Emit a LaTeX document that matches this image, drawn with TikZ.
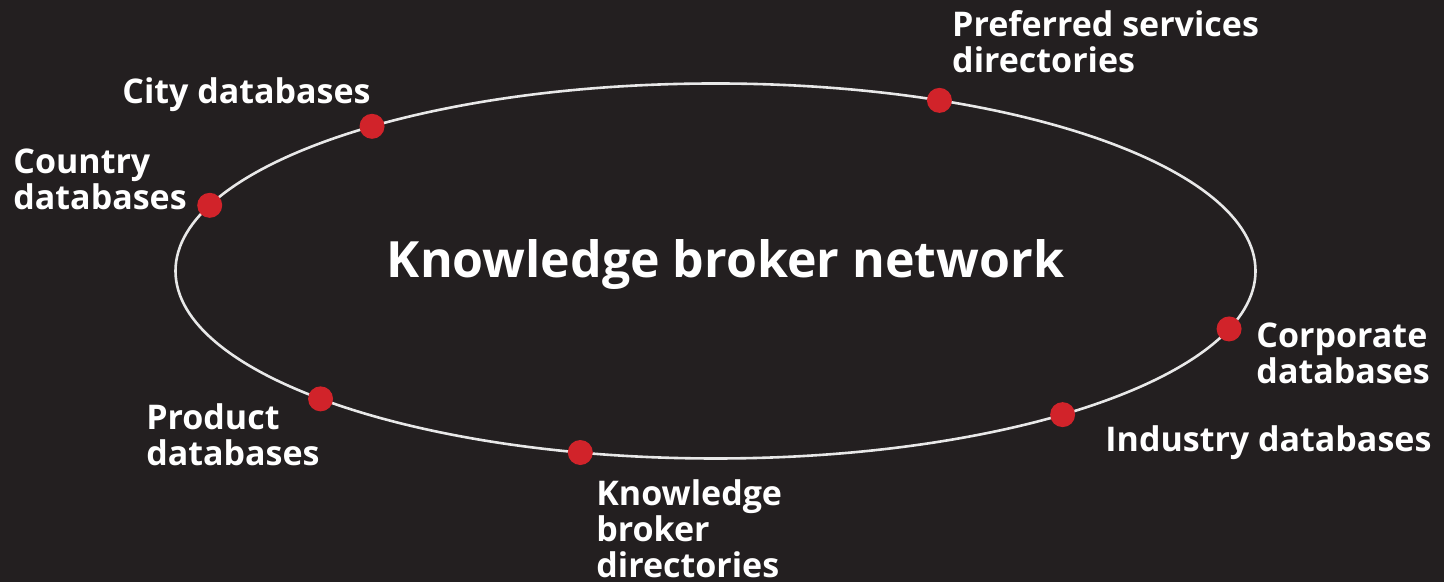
\documentclass[tikz,border=0pt]{standalone}
\usepackage{fontspec}
\setmainfont{Open Sans}
\usetikzlibrary{calc, positioning}
\definecolor{bgdark}{HTML}{231F20}
\definecolor{dotred}{HTML}{D1232A}
\definecolor{ringgray}{HTML}{E8E8E8}
\tikzset{
  % ring line style
  ring/.style={
    draw=ringgray, line width = 1.3pt
  },
  % red source dots
  hub/.style={
    circle, fill=dotred, inner sep=0pt, minimum size=12.5pt
  },
}

\begin{document}
\begin{tikzpicture}
          [x=0.5pt, y=0.5pt,
           lbl/.style={text=white, align=left, inner sep=0pt,
                       font=\bfseries\fontsize{17}{18}\selectfont}
          ]
          \fill[bgdark] (0,0) rectangle (1444,582);
          \coordinate (ctr) at (715.5,311);
          \draw[ring] (ctr) ellipse [x radius=540, y radius=187.5];

          \node (title) [text=white, anchor=base
                        , font=\bfseries\fontsize{25}{28}\selectfont]
                        at ([shift={(10,-7)}]ctr) {Knowledge broker network};

          \node (pref) [hub] at ($(ctr)+(65.5:540 and 187.5)$) {};
          \node (city) [hub] at ($(ctr)+(129.5:540 and 187.5)$) {};
          \node (country) [hub] at ($(ctr)+(159.5:540 and 187.5)$) {};
          \node (corp) [hub] at ($(ctr)+(-18:540 and 187.5)$) {};
          \node (ind) [hub] at ($(ctr)+(-50:540 and 187.5)$) {};
          \node (kbd) [hub] at ($(ctr)+(-104.5:540 and 187.5)$) {};
          \node (prod) [hub] at ($(ctr)+(-137:540 and 187.5)$) {};

          \node (preflbl) [lbl, anchor=north west]
                at ([shift={(12.4,90.4)}]pref.center)
                {Preferred services\\directories};
          \node (citylbl) [lbl, anchor=base east]
                at ([shift={(-1,23.3)}]city.center)
                {City databases};
          \node (countrylbl) [lbl, anchor=north west]
                at ([shift={(-196.7,57.3)}]country.center)
                {Country\\databases};
          \node (corplbl) [lbl, anchor=north west]
                at ([shift={(27,6)}]corp.center)
                {Corporate\\databases};
          \node (indlbl) [lbl, anchor=north west]
                at ([shift={(42.4,-10.4)}]ind.center)
                {Industry databases};
          \node (prodlbl) [lbl, anchor=north east]
                at ([shift={(-0.6,-4.1)}]prod.center)
                {Product\\databases};
          \node (kbdlbl) [lbl, anchor=north west]
                at ([shift={(15.7,-26.5)}]kbd.center)
                {Knowledge\\broker\\directories};
\end{tikzpicture}
\end{document}
